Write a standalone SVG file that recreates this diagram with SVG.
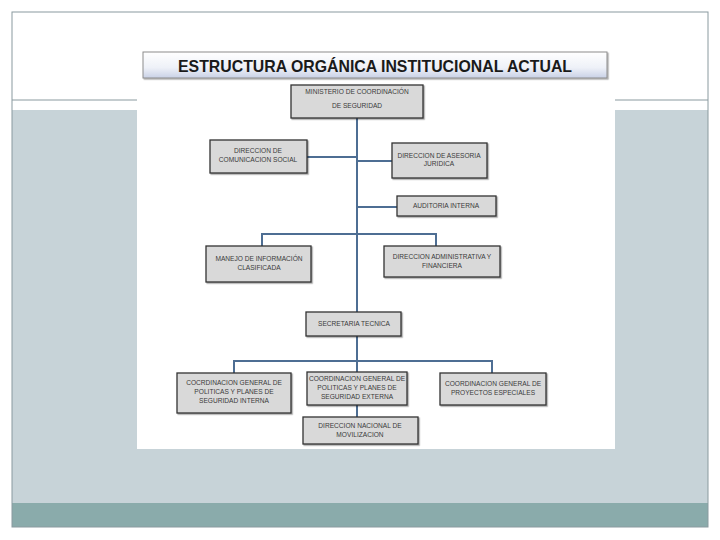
<svg xmlns="http://www.w3.org/2000/svg" width="720" height="540" viewBox="0 0 720 540">
<defs>
<linearGradient id="tg" x1="0" y1="0" x2="0" y2="1">
<stop offset="0" stop-color="#ffffff"/>
<stop offset="0.6" stop-color="#eef1f8"/>
<stop offset="1" stop-color="#c9d1e6"/>
</linearGradient>
<filter id="ds" x="-10%" y="-10%" width="120%" height="130%">
<feDropShadow dx="1.2" dy="1.2" stdDeviation="0.6" flood-color="#000" flood-opacity="0.35"/>
</filter>
<style>
.box{fill:#d9d9d9;stroke:#333333;stroke-width:1.3;filter:url(#ds)}
.t{font-family:"Liberation Sans",Arial,sans-serif;font-size:6.6px;fill:#3a3a3a;text-anchor:middle}
.c{stroke:#4e6e93;stroke-width:2;fill:none}
</style>
</defs>
<rect x="0" y="0" width="720" height="540" fill="#ffffff"/>
<rect x="12" y="110" width="696" height="393" fill="#c7d3d8"/>
<rect x="12" y="503" width="696" height="24" fill="#8aabab"/>
<rect x="12" y="12" width="696" height="515" fill="none" stroke="#8a9a9f" stroke-width="1"/>
<line x1="12" y1="100" x2="708" y2="100" stroke="#8a9a9f" stroke-width="1"/>
<rect x="137" y="78" width="478" height="371" fill="#ffffff"/>
<g id="title">
<rect x="143" y="52" width="464" height="26" fill="url(#tg)" stroke="#8c8c8c" stroke-width="1" filter="url(#ds)"/>
<text x="375" y="72" font-family="Liberation Sans,Arial,sans-serif" font-size="16.5" font-weight="bold" fill="#1a1a1a" text-anchor="middle" textLength="394" lengthAdjust="spacingAndGlyphs">ESTRUCTURA ORGÁNICA INSTITUCIONAL ACTUAL</text>
</g>
<g id="connectors">
<line class="c" x1="357" y1="118" x2="357" y2="312"/>
<line class="c" x1="307" y1="157" x2="357" y2="157"/>
<line class="c" x1="357" y1="161" x2="392" y2="161"/>
<line class="c" x1="357" y1="207" x2="397" y2="207"/>
<polyline class="c" points="262,246 262,234 436,234 436,246"/>
<line class="c" x1="357" y1="336" x2="357" y2="361"/>
<polyline class="c" points="234,373 234,361 492,361 492,373"/>
<line class="c" x1="357" y1="361" x2="357" y2="372"/>
<line class="c" x1="357" y1="405" x2="357" y2="417"/>
</g>
<g id="n-ministerio">
<rect class="box" x="291" y="85" width="132" height="33"/>
<text class="t" x="357" y="94">MINISTERIO  DE COORDINACIÓN</text>
<text class="t" x="357" y="108">DE SEGURIDAD</text>
</g>
<g id="n-comunicacion">
<rect class="box" x="210" y="140" width="97" height="33"/>
<text class="t" x="258" y="153">DIRECCION DE</text>
<text class="t" x="258" y="162">COMUNICACION SOCIAL</text>
</g>
<g id="n-asesoria">
<rect class="box" x="392" y="143" width="95" height="35"/>
<text class="t" x="439" y="158">DIRECCION DE ASESORIA</text>
<text class="t" x="439" y="166">JURIDICA</text>
</g>
<g id="n-auditoria">
<rect class="box" x="397" y="196" width="99" height="20"/>
<text class="t" x="446" y="208">AUDITORIA INTERNA</text>
</g>
<g id="n-manejo">
<rect class="box" x="206" y="246" width="105" height="36"/>
<text class="t" x="259" y="261">MANEJO DE INFORMACIÓN</text>
<text class="t" x="259" y="270">CLASIFICADA</text>
</g>
<g id="n-administrativa">
<rect class="box" x="384" y="246" width="116" height="31"/>
<text class="t" x="442" y="259">DIRECCION ADMINISTRATIVA Y</text>
<text class="t" x="442" y="268">FINANCIERA</text>
</g>
<g id="n-secretaria">
<rect class="box" x="306" y="312" width="95" height="24"/>
<text class="t" x="354" y="326">SECRETARIA TECNICA</text>
</g>
<g id="n-interna">
<rect class="box" x="177" y="373" width="114" height="40"/>
<text class="t" x="234" y="385">COCRDINACION GENERAL DE</text>
<text class="t" x="234" y="394" font-size="6px">POLITICAS Y PLANES DE</text>
<text class="t" x="234" y="403">SEGURIDAD INTERNA</text>
</g>
<g id="n-externa">
<rect class="box" x="307" y="372" width="100" height="33"/>
<text class="t" x="357" y="381">COORDINACION GENERAL DE</text>
<text class="t" x="357" y="390">POLITICAS Y PLANES DE</text>
<text class="t" x="357" y="399">SEGURIDAD EXTERNA</text>
</g>
<g id="n-proyectos">
<rect class="box" x="440" y="373" width="106" height="32"/>
<text class="t" x="493" y="386">COORDINACION GENERAL DE</text>
<text class="t" x="493" y="395" font-size="6px">PROYECTOS ESPECIALES</text>
</g>
<g id="n-movilizacion">
<rect class="box" x="303" y="417" width="115" height="27"/>
<text class="t" x="360" y="428">DIRECCION NACIONAL DE</text>
<text class="t" x="360" y="437">MOVILIZACION</text>
</g>
</svg>
